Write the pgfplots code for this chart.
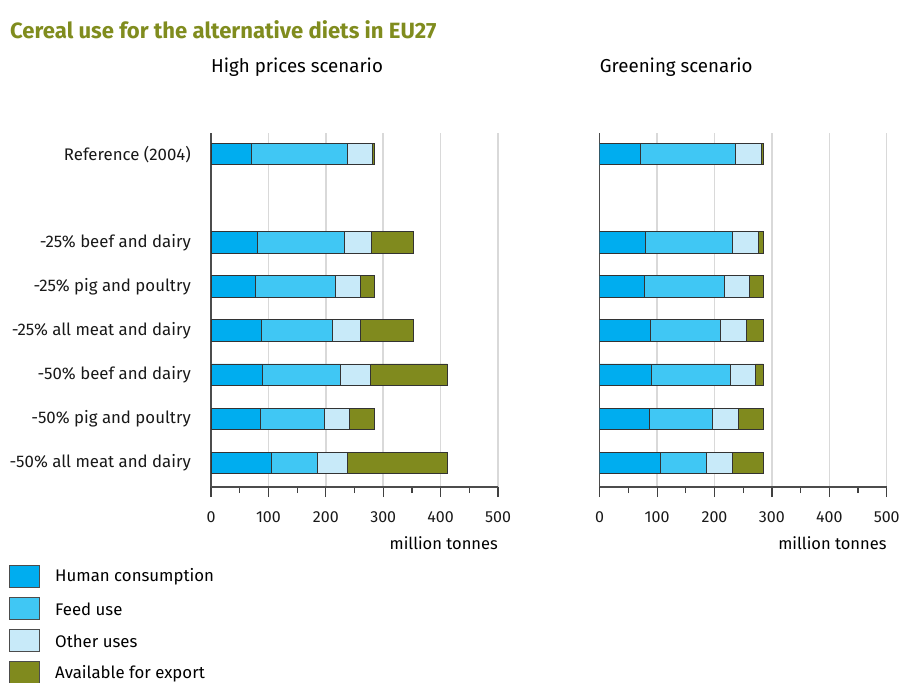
\documentclass[border=0pt]{standalone}
\usepackage{fontspec}
\setmainfont{Fira Sans}
\usepackage{pgfplots}
\pgfplotsset{compat=1.18}
\usepackage{pgfplotstable}

\definecolor{human}{RGB}{0,173,239}
\definecolor{feed}{RGB}{64,199,244}
\definecolor{other}{RGB}{200,234,249}
\definecolor{export}{RGB}{128,138,30}
\definecolor{titlegreen}{RGB}{128,140,30}

\pgfplotstableread{
y human feed other export
7 71 166 45 3
5 81 151 48 73
4 78 139 44 23
3 88 124 48 93
2 90 136 52 134
1 86 111 44 44
0 106 80 52 174
}\highprices

\pgfplotstableread{
y human feed other export
7 71 166 45 3
5 80 152 44 9
4 78 139 44 24
3 88 123 45 29
2 90 137 44 14
1 86 111 44 45
0 105 81 45 55
}\greening

\pgfplotsset{panel/.style={
  scale only axis, width=287pt, height=354pt,
  xbar stacked, bar width=21.5pt,
  xmin=0, xmax=500, ymin=-0.545, ymax=7.48,
  axis x line=bottom, axis y line=left,
  axis line style={-, line width=1.3pt, draw=black!70},
  xtick={0,100,200,300,400,500}, minor x tick num=1,
  tick align=outside, major tick length=10pt, minor tick length=6pt,
  tick style={line width=1.2pt, draw=black!75},
  xmajorgrids, major grid style={line width=1.5pt, draw=black!15},
  ytick={0,1,2,3,4,5,7},
  ytick style={draw=none},
  /pgf/number format/assume math mode=true,
  tick label style={font=\fontsize{16}{19}\selectfont, text=black!90},
  xticklabel style={yshift=-11pt},
  xlabel={million tonnes},
  xlabel style={at={(axis description cs:1,0)}, anchor=north east, inner sep=0pt, yshift=-49pt, font=\fontsize{16.5}{19}\selectfont},
  title style={at={(axis description cs:0,1)}, anchor=base west, inner sep=0pt, yshift=55pt, font=\fontsize{18.7}{22}\selectfont},
  every axis plot/.append style={draw=black!80, line width=0.9pt},
}}

\begin{document}
\begin{tikzpicture}
\useasboundingbox (0,0) rectangle (901pt,-682pt);
\node[anchor=base west, inner sep=0pt, text=titlegreen, font=\fontsize{22.1}{25}\selectfont\bfseries] at (10pt,-38.5pt) {Cereal use for the alternative diets in EU27};

\begin{axis}[panel, at={(211pt,-487pt)}, anchor=south west,
  title={High prices scenario},
  yticklabels={-50\% all meat and dairy, -50\% pig and poultry, -50\% beef and dairy, -25\% all meat and dairy, -25\% pig and poultry, -25\% beef and dairy, Reference (2004)},
  yticklabel style={inner sep=0pt, xshift=-10pt, font=\fontsize{16.8}{19}\selectfont}]
\addplot[fill=human] table[x=human, y=y] {\highprices};
\addplot[fill=feed] table[x=feed, y=y] {\highprices};
\addplot[fill=other] table[x=other, y=y] {\highprices};
\addplot[fill=export] table[x=export, y=y] {\highprices};
\end{axis}

\begin{axis}[panel, at={(599.7pt,-487pt)}, anchor=south west,
  title={Greening scenario},
  yticklabels={}]
\addplot[fill=human] table[x=human, y=y] {\greening};
\addplot[fill=feed] table[x=feed, y=y] {\greening};
\addplot[fill=other] table[x=other, y=y] {\greening};
\addplot[fill=export] table[x=export, y=y] {\greening};
\end{axis}

\foreach \c/\t [count=\i from 0] in {human/Human consumption, feed/Feed use, other/Other uses, export/Available for export}{
  \filldraw[fill=\c, draw=black!70, line width=0.9pt] (9.5pt,{-565pt-\i*32.3pt}) rectangle (39pt,{-587pt-\i*32.3pt});
  \node[anchor=west, inner sep=0pt, font=\fontsize{16.8}{19}\selectfont] at (55pt,{-577pt-\i*32.3pt}) {\t};
}
\end{tikzpicture}
\end{document}
